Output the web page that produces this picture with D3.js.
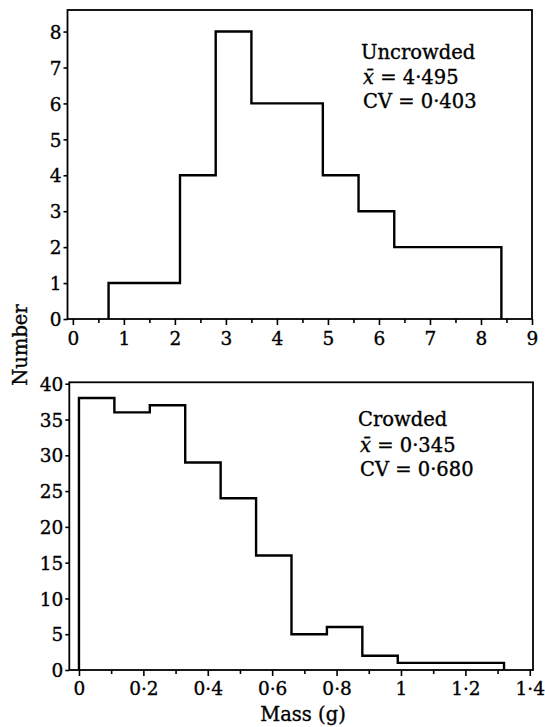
<!DOCTYPE html>
<html>
<head>
<meta charset="utf-8">
<script src="https://cdn.jsdelivr.net/npm/d3@7"></script>
<style>
  html, body { margin: 0; padding: 0; background: #fff; }
  svg { display: block; }
  text { font-family: "DejaVu Serif", "Liberation Serif", serif; fill: #000; stroke: #000; stroke-width: 0.35px; }
</style>
</head>
<body>
<script>
// ---- Data ----
const uncrowdedEdges = [0.7, 1.4, 2.1, 2.8, 3.5, 4.2, 4.9, 5.6, 6.3, 7.0, 7.7, 8.4];
const uncrowdedCounts = [1, 1, 4, 8, 6, 6, 4, 3, 2, 2, 2];
const crowdedEdges = [0, 0.11, 0.22, 0.33, 0.44, 0.55, 0.66, 0.77, 0.88, 0.99, 1.10, 1.21, 1.32];
const crowdedCounts = [38, 36, 37, 29, 24, 16, 5, 6, 2, 1, 1, 1];

const topXTicks = [0, 1, 2, 3, 4, 5, 6, 7, 8, 9];
const topXMinor = [0.5, 1.5, 2.5, 3.5, 4.5, 5.5, 6.5, 7.5, 8.5];
const topYTicks = [0, 1, 2, 3, 4, 5, 6, 7, 8];
const botXTicks = [0, 0.2, 0.4, 0.6, 0.8, 1.0, 1.2, 1.4];
const botXMinor = [0.1, 0.3, 0.5, 0.7, 0.9, 1.1, 1.3];
const botYTicks = [0, 5, 10, 15, 20, 25, 30, 35, 40];

const topLegend = ["Uncrowded", "4·495", "0·403"];
const botLegend = ["Crowded", "0·345", "0·680"];

const W = 545, H = 727;
const svg = d3.select("body").append("svg").attr("width", W).attr("height", H);

const fmt = d => {
  const s = String(+d.toFixed(1));
  return s.replace(".", "·");
};

function panel(cfg) {
  const x = d3.scaleLinear().domain(cfg.xDomain).range([cfg.left, cfg.right]);
  const y = d3.scaleLinear().domain(cfg.yDomain).range([cfg.bottom, cfg.top]);
  const g = svg.append("g");

  // frame
  g.append("rect")
    .attr("x", cfg.left).attr("y", cfg.top)
    .attr("width", cfg.right - cfg.left).attr("height", cfg.bottom - cfg.top)
    .attr("fill", "none").attr("stroke", "#000").attr("stroke-width", 1.8);

  // x axis major
  const xa = g.append("g").attr("transform", `translate(0,${cfg.bottom})`)
    .call(d3.axisBottom(x).tickValues(cfg.xTicks).tickSize(6).tickFormat(fmt));
  xa.select(".domain").remove();
  xa.selectAll("line").attr("stroke", "#000").attr("stroke-width", 1.6);
  xa.selectAll("text").attr("y", cfg.xLabelOffset).attr("dy", null)
    .style("font-size", "18.5px").style("font-family", "DejaVu Serif");

  // x axis minor
  const xm = g.append("g").attr("transform", `translate(0,${cfg.bottom})`)
    .call(d3.axisBottom(x).tickValues(cfg.xMinor).tickSize(4).tickFormat(""));
  xm.select(".domain").remove();
  xm.selectAll("line").attr("stroke", "#000").attr("stroke-width", 1.6);

  // y axis
  const ya = g.append("g").attr("transform", `translate(${cfg.left},0)`)
    .call(d3.axisLeft(y).tickValues(cfg.yTicks).tickSize(4).tickPadding(2).tickFormat(d3.format("d")));
  ya.select(".domain").remove();
  ya.selectAll("line").attr("stroke", "#000").attr("stroke-width", 1.6);
  ya.selectAll("text").attr("dy", "0.36em")
    .style("font-size", "18.5px").style("font-family", "DejaVu Serif");

  // histogram outline
  const pts = [[cfg.edges[0], 0]];
  cfg.counts.forEach((c, i) => {
    pts.push([cfg.edges[i], c]);
    pts.push([cfg.edges[i + 1], c]);
  });
  pts.push([cfg.edges[cfg.edges.length - 1], 0]);
  const line = d3.line().x(d => x(d[0])).y(d => y(d[1]));
  g.append("path").attr("d", line(pts))
    .attr("fill", "none").attr("stroke", "#000").attr("stroke-width", 2.4)
    .attr("stroke-linejoin", "miter");

  // legend
  const lg = g.append("g").style("font-size", "19.5px");
  lg.append("text").attr("x", cfg.legX).attr("y", cfg.legY[0]).text(cfg.legend[0]);
  const t2 = lg.append("text").attr("x", cfg.legX + 2).attr("y", cfg.legY[1]);
  t2.append("tspan").style("font-style", "italic").text("x\u0304");
  t2.append("tspan").text(" = " + cfg.legend[1]);
  lg.append("text").attr("x", cfg.legX + 2).attr("y", cfg.legY[2]).text("CV = " + cfg.legend[2]);
}

panel({
  xDomain: [-0.105, 9], yDomain: [0, 8.6],
  left: 67.5, right: 532, top: 10, bottom: 319,
  xTicks: topXTicks, xMinor: topXMinor, yTicks: topYTicks,
  xLabelOffset: 26,
  edges: uncrowdedEdges, counts: uncrowdedCounts,
  legend: topLegend, legX: 361, legY: [59, 84, 108]
});

panel({
  xDomain: [-0.03, 1.41], yDomain: [0, 40.2],
  left: 69.3, right: 533, top: 382.3, bottom: 670,
  xTicks: botXTicks, xMinor: botXMinor, yTicks: botYTicks,
  xLabelOffset: 25,
  edges: crowdedEdges, counts: crowdedCounts,
  legend: botLegend, legX: 358, legY: [426, 452, 476]
});

// axis titles
svg.append("text")
  .attr("transform", "translate(27,345) rotate(-90)")
  .attr("text-anchor", "middle")
  .style("font-size", "19.5px")
  .text("Number");

svg.append("text")
  .attr("x", 303).attr("y", 721)
  .attr("text-anchor", "middle")
  .style("font-size", "19.5px")
  .text("Mass (g)");
</script>
</body>
</html>
